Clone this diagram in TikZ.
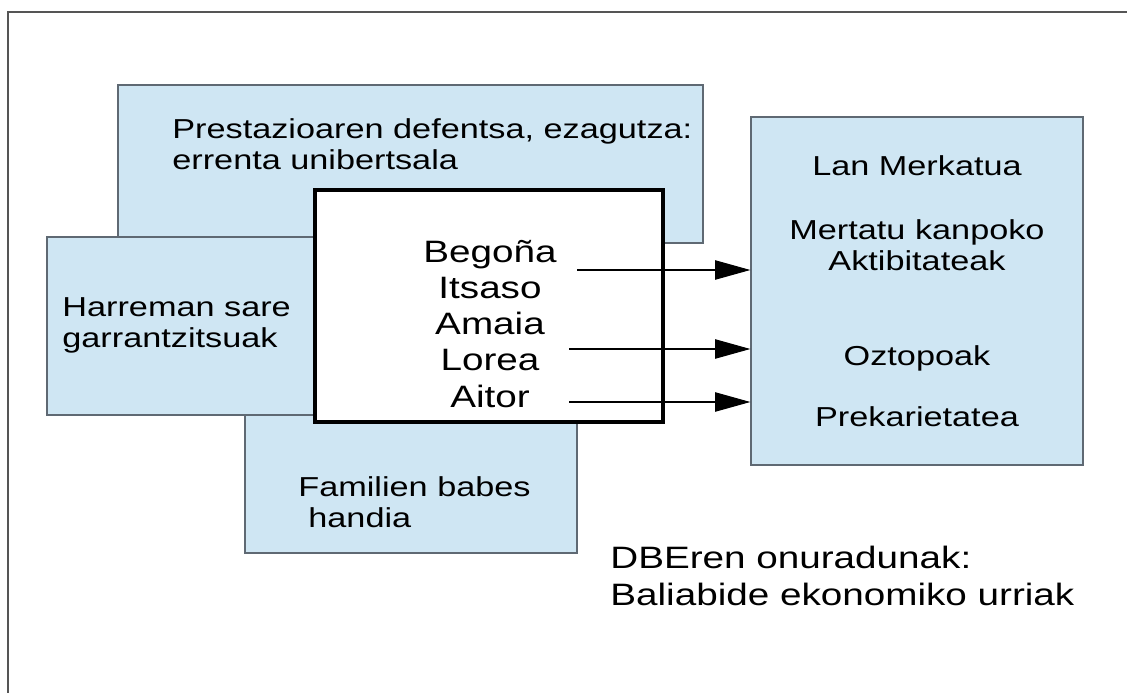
\documentclass[tikz,border=0pt]{standalone}
\usepackage{fontspec}
\setmainfont{Liberation Sans}[FakeStretch=1.25]
\usetikzlibrary{arrows.meta, positioning}

\definecolor{boxblue}{RGB}{207,230,243}
\definecolor{boxedge}{RGB}{95,105,115}
\definecolor{framegray}{RGB}{85,85,85}

\newcommand{\smalltxt}{\fontsize{15.6}{17.6}\selectfont}
\newcommand{\bigtxt}{\fontsize{17.6}{20.6}\selectfont}

\tikzset{
  box/.style={draw=boxedge, line width=0.8pt, fill=boxblue, inner sep=0pt},
  namebox/.style={draw=black, line width=2.3pt, fill=white, inner sep=0pt},
  txt/.style={inner sep=0pt, font=\smalltxt},
  bigtxt/.style={inner sep=0pt, font=\bigtxt},
}

\begin{document}
\begin{tikzpicture}[x=0.02cm, y=-0.02cm, >={Triangle[length=20pt,width=11pt]}]
      \useasboundingbox (0,0) rectangle (1127,693);
      \draw[framegray, line width=0.8pt] (8,693) -- (8,12) -- (1127,12);

      % boxes round the names
      \node[box, minimum width=11.7cm, minimum height=3.16cm] (prest) at (410.5,164) {};
      \node[box, minimum width=5.66cm, minimum height=3.56cm] (harreman) at (188.5,326) {};
      \node[box, minimum width=6.64cm, minimum height=2.76cm] (familien) at (411,484) {};
      \node[namebox, minimum width=6.96cm, minimum height=4.64cm] (izenak) at (489,306) {};
      \node[box, minimum width=6.64cm, minimum height=6.96cm] (lan) at (917,291) {};

      % texts (base = last line)
      \node[txt, anchor=base west, align=left] (prestT) at (172,169) {Prestazioaren defentsa, ezagutza:\\errenta unibertsala};
      \node[txt, anchor=base west, align=left] (harremanT) at (62,347) {Harreman sare\\garrantzitsuak};
      \node[txt, anchor=base west, align=left] (familienT) at (298,527) {Familien babes\\\hspace*{5.7pt}handia};
      \node[bigtxt, anchor=base, align=center] (izenakT) at (490,407) {Bego\~na\\Itsaso\\Amaia\\Lorea\\Aitor};

      \node[txt, anchor=base] (lanT) at (917,175) {Lan Merkatua};
      \node[txt, anchor=base, align=center] (kanpoT) at (917,270) {Mertatu kanpoko\\Aktibitateak};
      \node[txt, anchor=base] (oztopoT) at (917,365) {Oztopoak};
      \node[txt, anchor=base] (prekaT) at (917,426) {Prekarietatea};

      \node[bigtxt, anchor=base west, align=left] (dbe) at (610,605) {DBEren onuradunak:\\Baliabide ekonomiko urriak};

      \coordinate (a1) at (577,270);
      \coordinate (a2) at (569,349);
      \coordinate (a3) at (569,402);
      \draw[->, line width=0.6pt] (a1) -- (a1 -| lan.west);
      \draw[->, line width=0.6pt] (a2) -- (a2 -| lan.west);
      \draw[->, line width=0.6pt] (a3) -- (a3 -| lan.west);
\end{tikzpicture}
\end{document}
